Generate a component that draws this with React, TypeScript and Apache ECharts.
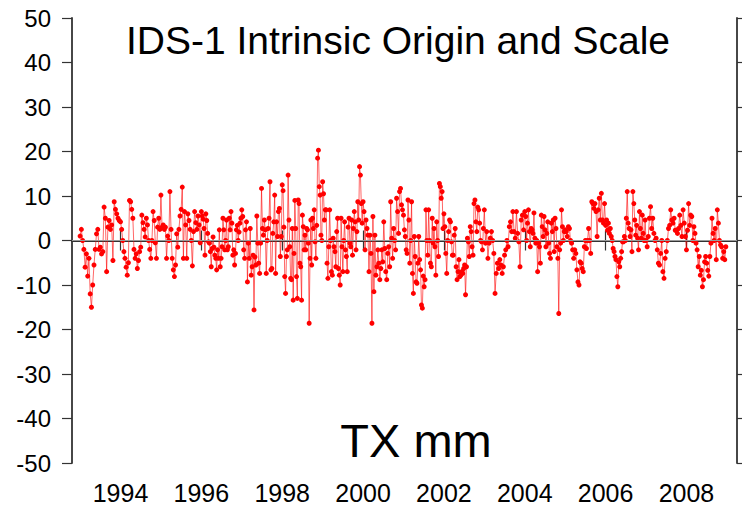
import React, { useEffect, useRef } from "react";
import * as echarts from "echarts";

// ---- data (values in mm; roughly weekly/bi-weekly samples per year) ----
const years = [1993, 1994, 1995, 1996, 1997, 1998, 1999, 2000, 2001, 2002, 2003, 2004, 2005, 2006, 2007, 2008];

const y1993 = [1, 2.5, 0, -2, -6, -3, -8, -4, -12, -15, -10, -5.5, -2, 1.5, 2.5, -2, -1.5, -3, -2.5, 7.5, 5, -7, 3, 4.5, 2.5, 3.5, -4.5, 8.7, 7, 6, 5, 4.5];
const y1994 = [4.2, 2.5, 0, -2.5, -4, -6, -7.8, -5, 9, 8.7, 7, 5, -2, -4, -3, -6.3, -4.5, -2.5, -1.5, 5.7, 4, 2.5, 0.8, 5, 3.5, 0, -2, -4, 0, 6.5, 4.5, -0.5, -4, 3, 5, 2.5];
const y1995 = [10.2, 3, 3.5, 2.5, 3, -4, 1, 0, 11, 2.5, -4, -6.6, -8.1, -5.5, 1.5, -1.5, 2.5, 5.5, 7, 12, -4, 6.5, 3.5, -4, 6, 4.5, 2.5, 0, -5.7, 2, 6.5, 4, 2.5, 5.5, 3.5, -0.5];
const y1996 = [6.5, 5.5, 4.8, 2.7, -3.3, 6, 4.5, 1.6, -0.3, -0.6, -2.5, -5.9, -1.8, 0.8, -1.5, -3.3, -4, -6.6, -2.1, -4, 2.4, -5.9, -4, -1.4, 5, 2.4, -2.1, 0, 4.6, -2.1, -1.4, 5, 2.4, 6.5, 3.9, -3.3, -2.1, -5.5, -2.9, 2.4, 3.4, 0, 1.9, 3.9, 5];
const y1997 = [6.9, 5.4, -2.1, -4, 2.4, 4.2, -9.3, -0.6, -4, 2.7, -7.8, -5.9, -3.3, -15.6, -3.7, -5.5, 5.5, -0.6, -5.1, -7.4, -0.6, 11.7, 2.7, 1.2, 4.6, 2.4, -7.4, 0, 2.7, 5, 13.2, -6.6, -6.3, 1.6, 4.2, 10.2, -7.4, 4.2, 0.9, 6.5, 7.2, -3.6, 0.9];
const y1998 = [12.5, 11.2, 3, -8.1, -11.9, -3.6, -2.1, 14.7, 4.6, -1.4, -8.5, -8.8, 2.7, -13.4, -2.9, 9, 2.7, -8.1, -13, 9.1, 8.3, -5.1, -5.9, -13.4, 5.7, 3.1, -2.1, 1.2, -2.1, 2.7, 2.4, -0.6, -18.6, -4, 4.6, -5.5, 5, 2.7, 6.9, -0.3, -4, 3.4, 18.5, 20.3, 12.1, 10.2, 1.2, 0];
const y1999 = [13.2, 10.5, 4.6, 6.9, 6.9, -5.1, -8.5, -1.4, 6.9, 0, -7, -7.8, 0.5, -1.4, -2.5, -5.9, 2, 5, -6.3, -7.8, -10, 5, -1.4, -7, 0, 4.2, -2.1, -3.6, -7, 3, 5, -0.6, -1.4, 4.6, -3.3, 2.7, 6.5, 4.2, -2.1, 2, 8.7, 4.6, 16.6, 14.7, 8.3, 3.9];
const y2000 = [8.7, 6.5, -2.1, 4.6, 2.7, 1.2, -7, 1.2, -2.9, -18.6, 5.4, -11.5, 1.2, -7.8, -5.9, -2.1, -5.1, -8.8, -6.3, -2.1, -4.8, 4.2, -1.8, -7, -8.8, -2.9, -1.4, -5.9, 8.7, 0.5, -4, 2.7, 0, -2.1, 9.5, 6.5, 1.6, 11, 11.7, 8, 6.9];
const y2001 = [5.7, 2.4, 0.9, -2.1, -2.9, 9.1, 4.6, -5.1, 0, 8.7, -7.4, -11.9, 0.9, -3.6, -9.3, -9.6, -5.1, 0.9, -4.3, -6.6, -14.5, -15.2, -8, -10.4, -8.8, 6.9, 0, -3.3, 6.9, 0, -5.1, -5.9, 5, -0.6, 2.7, -1.4, -7.8, 4.2, 0, -3.6, 12.8, 12.1, 9.5, 11, 2.7];
const y2002 = [6, 3.1, -2.9, -7.4, 0, 2, 4.6, 4.2, -0.3, -3.3, -3.3, 1.2, 2.7, -5.9, -8.8, -7, -4.3, -8.1, -7.8, -7, -7.4, -6.3, -5.5, -12.2, -5.9, 0.5, -0.3, -3.6, 3.1, 2, -1.4, -3.3, 8.3, 9.1, 4.2, 2, 7.5, 6.9, 3.9, 0, -0.3, -2.1, 2.7];
const y2003 = [6.9, -0.6, 2, -4, -0.6, 0.5, 2, 0, -2.9, -11.9, -7.4, -5.1, -6.3, -4.3, -5.5, -7.4, -5.9, -3.3, -2.1, 0, -1.4, 3.1, 4.2, 2, 6.5, 2, 0.5, 6.5, 1.6, -0.3, -5.9, 4.6, 5.7, 2.4];
const y2004 = [6.5, 5.4, 0, 3.9, 6.9, 2, -1.4, 2.7, 2.4, 1.6, 6.2, 0.5, -0.6, 0, -7, -0.6, -1.4, -5.1, 5.7, 3.1, 0.9, 5.4, 2.4, -1.4, 1.6, 4.2, -0.6, -2.9, -4, 3.9, 2, 4.6, -2.5, 5, 2.7, -1.4, -4, -16.4, -2.1, -0.6, 6.9, 3.1, 0, 2];
const y2005 = [2.4, 2, 0.9, 3.1, 2.7, 0, -0.6, -2.1, -4, -2.1, -2.9, -6.6, -9.3, -10, -4.8, -5.1, -6.3, -7, -1.4, 0, -1.8, 0, 2.7, 0, -2.9, 8.7, 8.3, 7.2, 8.3, 6.5, 0.9, 6.9, 9.5, 4.6, 10.6, 4.6, 3.9, 8.3];
const y2006 = [3.4, 4.6, 2.3, 3.9, 1.6, 2.7, 0.9, 0, -1.8, -2.5, -3.6, -4.3, -8.1, -10.4, -4.8, -5.9, -4, -2.5, -0.3, -0.3, 0.9, 0, 5, 11, 3.9, 2.7, 0.9, 2.4, -2.5, 11, 8.3, 4.6, 1.2, 3.4, 0.5, -2.1, 6.5, 2.7, 0.5, 5.7, 1.6, 0, 4.6];
const y2007 = [0, -1.4, 0.9, 5, 7.6, 2.7, 5, 1.6, 0, 0.5, -2.1, -5.1, -5.5, -2.9, 0, -7, -8.5, -4, -2.5, 0, 2.7, 3.4, 6.9, 4.6, 3.9, 5, 2.3, 2.3, 1.6, 2.7, 5.7, 3.4, 0.9, 6.9, 3.9, 0.9];
const y2008 = [-2.1, 2.3, 8.3, 3.4, 5.7, 5.4, 0, 3.1, 1.6, -0.6, -2.1, -5.9, -3.6, -7.8, -6.7, -10.4, -8.8, -4.8, -3.6, -5.1, -6.7, -8, -3.6, -0.6, 5, 1.6, 0, 2.7, -4.3, 6.9, 3.9, 0, -1, -1.4, -4, -2.5, -4.3, -1.4];

const yearlyValues = [y1993, y1994, y1995, y1996, y1997, y1998, y1999, y2000, y2001, y2002, y2003, y2004, y2005, y2006, y2007, y2008];

const xTickLabels = [1994, 1996, 1998, 2000, 2002, 2004, 2006, 2008];
const yMin = -50;
const yMax = 50;
const yStep = 10;
const xMin = 1992.8;
const xMax = 2009.25;

const titleText = "IDS-1 Intrinsic Origin and Scale";
const unitText = "TX mm";

const FONT = "'Liberation Sans', Arial, Helvetica, sans-serif";

export default function App() {
  const ref = useRef<HTMLDivElement>(null);

  useEffect(() => {
    if (!ref.current) return;
    const chart = echarts.init(ref.current, undefined, { renderer: "svg" });

    const data: [number, number][] = [];
    years.forEach((yr, k) => {
      const vals = yearlyValues[k];
      vals.forEach((v, i) => data.push([yr + i / vals.length, v]));
    });

    const axisLine = { show: true, lineStyle: { color: "#333", width: 1.8 } };
    const tickStyle = { color: "#333", width: 1.2 };

    chart.setOption({
      animation: false,
      backgroundColor: "#fff",
      grid: { left: 72, right: 5, top: 18, bottom: 46, containLabel: false },
      xAxis: [
        {
          type: "value",
          min: xMin,
          max: xMax,
          axisLine,
          axisTick: { show: true, length: 10, inside: false, customValues: xTickLabels, lineStyle: tickStyle },
          axisLabel: {
            customValues: xTickLabels,
            formatter: (v: number) => String(Math.round(v)),
            fontFamily: FONT,
            fontSize: 25,
            color: "#000",
            margin: 17,
          },
          splitLine: { show: false },
        },
        {
          type: "value",
          position: "top",
          min: xMin,
          max: xMax,
          axisLine,
          axisTick: { show: true, length: 10, inside: false, customValues: xTickLabels, lineStyle: tickStyle },
          axisLabel: { show: false },
          splitLine: { show: false },
        },
      ],
      yAxis: [
        {
          type: "value",
          min: yMin,
          max: yMax,
          interval: yStep,
          axisLine,
          axisTick: { show: true, length: 10, inside: false, lineStyle: tickStyle },
          axisLabel: { fontFamily: FONT, fontSize: 24, color: "#000", margin: 21 },
          splitLine: { show: false },
        },
        {
          type: "value",
          position: "right",
          min: yMin,
          max: yMax,
          interval: yStep,
          axisLine,
          axisTick: { show: true, length: 10, inside: false, lineStyle: tickStyle },
          axisLabel: { show: false },
          splitLine: { show: false },
        },
      ],
      graphic: [
        {
          type: "text",
          x: 126,
          y: 40,
          silent: true,
          style: {
            text: titleText,
            fontFamily: FONT,
            fontSize: 39,
            fill: "#000",
            textAlign: "left",
            textVerticalAlign: "middle",
          },
        },
        {
          type: "text",
          x: 416,
          y: 440,
          silent: true,
          style: {
            text: unitText,
            fontFamily: FONT,
            fontSize: 47,
            fill: "#000",
            textAlign: "center",
            textVerticalAlign: "middle",
          },
        },
      ],
      series: [
        {
          type: "line",
          xAxisIndex: 0,
          yAxisIndex: 0,
          data,
          symbol: "circle",
          symbolSize: 5,
          showSymbol: true,
          itemStyle: { color: "#ff0000" },
          lineStyle: { color: "#ff0000", width: 0.8, opacity: 0.75 },
          silent: true,
          z: 3,
        },
        {
          type: "line",
          xAxisIndex: 0,
          yAxisIndex: 0,
          data: [],
          silent: true,
          markLine: {
            silent: true,
            symbol: "none",
            label: { show: false },
            lineStyle: { color: "#9a9a9a", width: 1, type: "solid", opacity: 1 },
            data: [{ yAxis: 0 }],
          },
          z: 1,
        },
      ],
    });

    return () => chart.dispose();
  }, []);

  return (
    <div
      ref={ref}
      style={{ position: "fixed", left: 0, top: 0, width: 742, height: 509, background: "#fff" }}
    />
  );
}
